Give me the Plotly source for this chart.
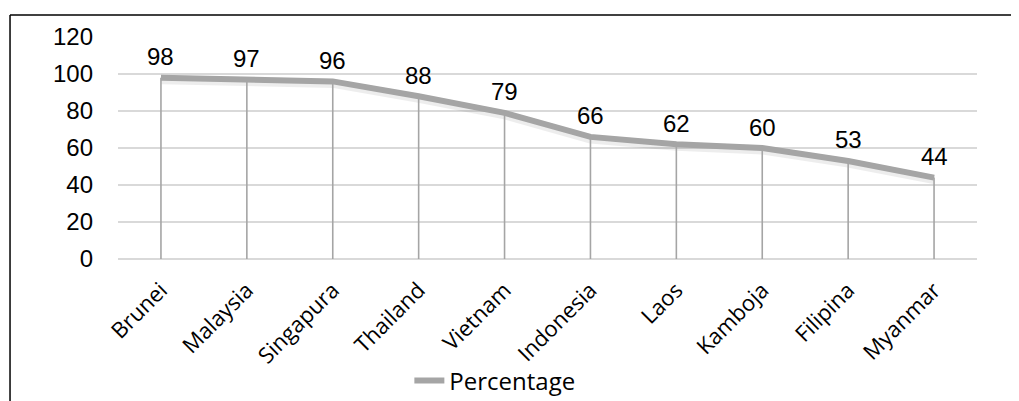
import plotly.graph_objects as go

countries = ["Brunei", "Malaysia", "Singapura", "Thailand", "Vietnam",
             "Indonesia", "Laos", "Kamboja", "Filipina", "Myanmar"]
percentage = [98, 97, 96, 88, 79, 66, 62, 60, 53, 44]
y_ticks = [0, 20, 40, 60, 80, 100, 120]

LINE = "#a5a5a5"
NUM_FONT = "Liberation Sans, Arial, sans-serif"
TXT_FONT = "Open Sans, sans-serif"

fig = go.Figure()

# soft shadow under the line
fig.add_trace(go.Scatter(
    x=countries, y=[v - 1.1 for v in percentage], mode="lines",
    line=dict(color="rgba(0,0,0,0.07)", width=9),
    hoverinfo="skip", showlegend=False))

# drop lines + main line
fig.add_trace(go.Scatter(
    x=countries, y=percentage, mode="lines", name="Percentage",
    line=dict(color=LINE, width=6),
    error_y=dict(type="data", symmetric=False, array=[0] * len(percentage),
                 arrayminus=percentage, color=LINE, thickness=1.6, width=0),
))

for c, v in zip(countries, percentage):
    fig.add_annotation(x=c, y=v, text=str(v), showarrow=False,
                       yanchor="middle", yshift=21,
                       font=dict(family=NUM_FONT, size=24, color="#000000"))

# chart frame (left & top edges visible)
fig.add_shape(type="line", xref="paper", yref="paper",
              x0=-0.1257, x1=1.1, y0=1.099, y1=1.099,
              line=dict(color="#000000", width=1.5))
fig.add_shape(type="line", xref="paper", yref="paper",
              x0=-0.1257, x1=-0.1257, y0=1.099, y1=-0.7,
              line=dict(color="#000000", width=1.5))

# page body has an 8px default margin, so the figure is sized to fit
fig.update_layout(
    width=1011, height=393,
    margin=dict(l=110, r=42, t=29, b=142, autoexpand=False),
    paper_bgcolor="white", plot_bgcolor="white",
    showlegend=True,
    legend=dict(orientation="h", xref="container", yref="container",
                x=0.397, xanchor="left", y=0.051, yanchor="middle",
                font=dict(family=TXT_FONT, size=24, color="#000000"),
                bgcolor="rgba(0,0,0,0)"),
    xaxis=dict(
        type="category", showgrid=False, zeroline=False, automargin=False,
        showline=False, ticks="", tickangle=-45, ticklabelstandoff=13,
        tickfont=dict(family=TXT_FONT, size=22, color="#000000"),
    ),
    yaxis=dict(
        range=[0, 120], tickvals=y_ticks, showgrid=True, automargin=False,
        gridcolor="#d9d9d9", gridwidth=1.5,
        zeroline=True, zerolinecolor="#d9d9d9", zerolinewidth=2,
        showline=False, ticks="", ticklabelstandoff=24,
        tickfont=dict(family=NUM_FONT, size=24, color="#000000"),
    ),
)

fig.write_html("out.html")
